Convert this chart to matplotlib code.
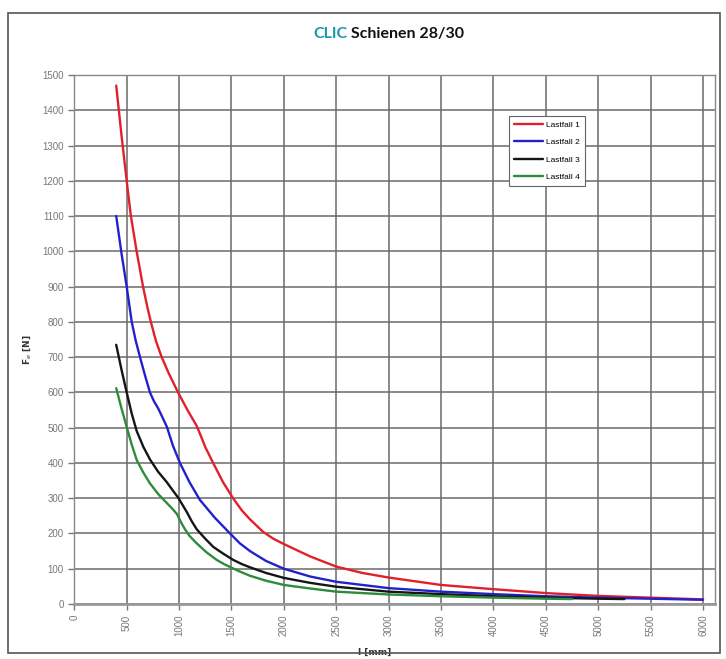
import matplotlib
matplotlib.use("Agg")
import matplotlib.pyplot as plt
from matplotlib.patches import Rectangle

# ---- data ----
l_red = [400, 450, 500, 540, 595, 656, 700, 735, 780, 834, 900, 990, 1080, 1168, 1210, 1250,
         1325, 1420, 1515, 1600, 1677, 1800, 1900, 2000, 2250, 2500, 2750, 3000, 3500, 4000,
         4500, 5000, 5500, 6000]
f_red = [1470, 1330, 1200, 1100, 1000, 900, 838, 795, 745, 700, 655, 600, 550, 505, 475, 445,
         400, 345, 300, 265, 240, 205, 185, 170, 135, 106, 88, 75, 54, 42,
         31, 23, 18, 13]

l_blue = [400, 450, 500, 548, 585, 627, 675, 722, 760, 800, 840, 884, 940, 1008, 1100, 1199,
          1340, 1486, 1580, 1677, 1830, 2000, 2250, 2500, 3000, 3500, 4000, 4500, 5000, 5500, 6000]
f_blue = [1100, 995, 900, 800, 748, 700, 648, 600, 575, 555, 530, 502, 450, 400, 345, 295,
          245, 200, 172, 150, 122, 100, 78, 63, 45, 35, 28, 22, 18, 15, 12]

l_black = [400, 450, 500, 548, 596, 660, 722, 800, 884, 940, 995, 1035, 1075, 1120, 1168, 1250,
           1326, 1420, 1517, 1600, 1677, 1830, 2000, 2250, 2500, 3000, 3500, 4000, 4500, 5000, 5250]
f_black = [735, 665, 600, 540, 490, 445, 410, 375, 345, 322, 300, 280, 260, 235, 212, 185,
           162, 143, 125, 113, 104, 88, 74, 60, 49, 35, 28, 22, 18, 15, 14]

l_green = [400, 450, 500, 548, 596, 660, 722, 800, 884, 930, 980, 1000, 1025, 1060, 1100, 1168,
           1260, 1359, 1430, 1500, 1580, 1677, 1830, 2000, 2250, 2500, 3000, 3500, 4000, 4500, 4750]
f_green = [612, 555, 502, 452, 408, 372, 342, 312, 286, 272, 255, 243, 228, 210, 193, 172,
           147, 125, 113, 103, 92, 80, 66, 54, 44, 35, 27, 22, 18, 15, 14]

series_labels = ["Lastfall 1", "Lastfall 2", "Lastfall 3", "Lastfall 4"]
x_ticks = list(range(0, 6001, 500))
y_ticks = list(range(0, 1501, 100))

# ---- figure ----
fig = plt.figure(figsize=(7.26, 6.59), dpi=100)
W, H = 726, 659
x0, x1, y0, y1 = 74.3, 715, 75, 604
ax = fig.add_axes([x0 / W, 1 - y1 / H, (x1 - x0) / W, (y1 - y0) / H])

colors = ["#e0202a", "#2222cc", "#151515", "#2e8b3a"]
data = [(l_red, f_red), (l_blue, f_blue), (l_black, f_black), (l_green, f_green)]
for (lx, fy), c, lab in zip(data, colors, series_labels):
    ax.plot(lx, fy, color=c, lw=1.7, label=lab, zorder=3,
            solid_joinstyle="round", solid_capstyle="round")

ax.set_xlim(0, 6000 * (x1 - x0) / (703 - x0))
ax.set_ylim(0, 1500)
ax.set_xticks(x_ticks)
ax.set_yticks(y_ticks)
ax.set_xticklabels([str(v) for v in x_ticks], rotation=90, fontsize=7,
                   color="#777777", family="Liberation Sans")
ax.set_yticklabels([str(v) for v in y_ticks], fontsize=7, color="#777777",
                   family="Liberation Sans")
ax.tick_params(length=4, color="#777777", width=1)
ax.grid(True, color="#6a6a6a", lw=1.1, zorder=0)
for s in ["top", "right", "left"]:
    ax.spines[s].set_color("#888888")
    ax.spines[s].set_linewidth(1.0)
ax.spines["bottom"].set_color("#999999")
ax.spines["bottom"].set_linewidth(2.0)

ax.set_ylabel(r"F$_e$ [N]", fontsize=6.5, fontweight="bold", color="#333333")
ax.set_xlabel("l [mm]", fontsize=6.5, fontweight="bold", color="#333333")
ax.xaxis.set_label_coords((375 - x0) / (x1 - x0), -(648 - y1) / (y1 - y0))
ax.yaxis.set_label_coords(-(x0 - 33) / (x1 - x0), (y1 - 350) / (y1 - y0))

leg = ax.legend(loc="upper left", bbox_to_anchor=((505 - x0) / (x1 - x0), (y1 - 112) / (y1 - y0)),
                handlelength=3.4, labelspacing=1.15, fancybox=False,
                edgecolor="#666666", framealpha=1, borderpad=0.6, handletextpad=0.4,
                prop={"family": "Liberation Sans", "size": 6})
leg.get_frame().set_linewidth(0.8)

# title in two colours
t1 = fig.text(313 / W, 1 - 38 / H, "CLIC", color="#1898b3", fontsize=11.5,
              fontweight="bold", family="Lato", ha="left", va="baseline")
ax.annotate(" Schienen 28/30", xy=(1, 0), xycoords=t1, color="#111111", fontsize=11.5,
            fontweight="bold", family="Lato", ha="left", va="bottom")

# outer frame
fig.patches.append(Rectangle((8 / W, 1 - 653 / H), (720 - 8) / W, (653 - 13) / H,
                             transform=fig.transFigure, fill=False,
                             edgecolor="#555555", lw=1.2))

fig.savefig("out.png", dpi=100)
